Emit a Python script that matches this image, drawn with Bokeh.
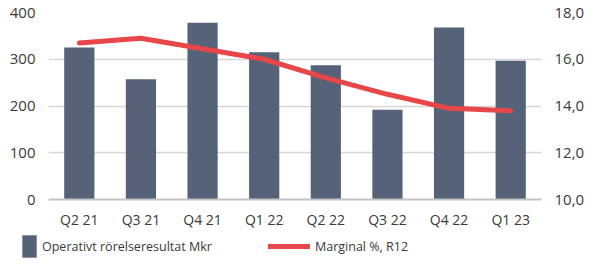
from bokeh.plotting import figure
from bokeh.models import (Range1d, LinearAxis, FixedTicker, CustomJSTickFormatter,
                          Legend, LegendItem, ColumnDataSource, FactorRange)
from bokeh.embed import file_html
from bokeh.resources import INLINE

categories = ["Q2 21", "Q3 21", "Q4 21", "Q1 22", "Q2 22", "Q3 22", "Q4 22", "Q1 23"]
operating_result = [325, 257, 378, 315, 287, 192, 368, 297]
margin_r12 = [16.7, 16.9, 16.45, 16.0, 15.2, 14.5, 13.9, 13.8]
left_ticks = [0, 100, 200, 300, 400]
right_ticks = [10, 12, 14, 16, 18]
bar_label = "Operativt rörelseresultat Mkr"
line_label = "Marginal %, R12"

FONT = "Open Sans"
TXT = "#3a3a3a"
BAR = "#566278"
RED = "#e8474a"

src = ColumnDataSource(dict(cat=categories, val=operating_result, m=margin_r12))

p = figure(x_range=FactorRange(*categories, range_padding=0),
           y_range=Range1d(0, 400),
           frame_width=493, frame_height=187,
           min_border_left=48, min_border_right=46,
           min_border_top=12, min_border_bottom=31,
           output_backend="svg", toolbar_location=None,
           background_fill_color="white", border_fill_color="white")
p.outline_line_color = None
p.extra_y_ranges = {"pct": Range1d(10, 18)}

p.vbar(x="cat", top="val", width=0.49, source=src, color=BAR, line_color=None)
p.line(x="cat", y="m", source=src, y_range_name="pct", line_color=RED,
       line_width=5, line_cap="round", line_join="round")

ya = p.yaxis[0]
ya.ticker = FixedTicker(ticks=left_ticks)
ya.axis_line_color = None
ya.major_tick_line_color = None
ya.minor_tick_line_color = None
ya.major_label_standoff = 7
ya.major_label_text_font = FONT
ya.major_label_text_font_size = "15px"
ya.major_label_text_color = TXT

ra = LinearAxis(y_range_name="pct", ticker=FixedTicker(ticks=right_ticks),
                formatter=CustomJSTickFormatter(code="return tick.toFixed(1).replace('.', ',');"))
ra.axis_line_color = None
ra.major_tick_line_color = None
ra.minor_tick_line_color = None
ra.major_label_standoff = 7
ra.major_label_text_font = FONT
ra.major_label_text_font_size = "15px"
ra.major_label_text_color = TXT
p.add_layout(ra, "right")

xa = p.xaxis[0]
xa.axis_line_color = "#c4c4c4"
xa.axis_line_width = 2
xa.major_tick_line_color = None
xa.minor_tick_line_color = None
xa.major_label_standoff = 4
xa.major_label_text_font = FONT
xa.major_label_text_font_size = "14px"
xa.major_label_text_color = TXT

p.xgrid.grid_line_color = None
p.ygrid.grid_line_color = "#d6d6d6"
p.ygrid.grid_line_width = 1.5

# legend strip below the chart (separate root, so frames are not aligned)
lg = figure(width=587, height=29, x_range=FactorRange(*categories), y_range=Range1d(0, 1),
            min_border=0, output_backend="svg", toolbar_location=None,
            background_fill_color="white", border_fill_color="white")
lg.axis.visible = False
lg.grid.visible = False
lg.outline_line_color = None
bar_key = lg.vbar(x="cat", top="val", source=src, width=0.49, color=BAR, line_color=None,
                  visible=False)
line_key = lg.line(x="cat", y="m", source=src, line_color=RED, line_width=5,
                   line_cap="round", visible=False)

common = dict(padding=0, margin=0, border_line_color=None, background_fill_alpha=0,
              label_text_font=FONT, label_text_font_size="12.5px", label_text_color=TXT,
              glyph_height=28, label_height=28, inactive_fill_alpha=0)
leg1 = Legend(items=[LegendItem(label=bar_label, renderers=[bar_key])],
              location=(20, 0), glyph_width=18, label_standoff=4, **common)
leg2 = Legend(items=[LegendItem(label=line_label, renderers=[line_key])],
              location=(268, 0), glyph_width=42, label_standoff=5, **common)
lg.add_layout(leg1)
lg.add_layout(leg2)

open("out.html", "w").write(file_html([p, lg], INLINE))
